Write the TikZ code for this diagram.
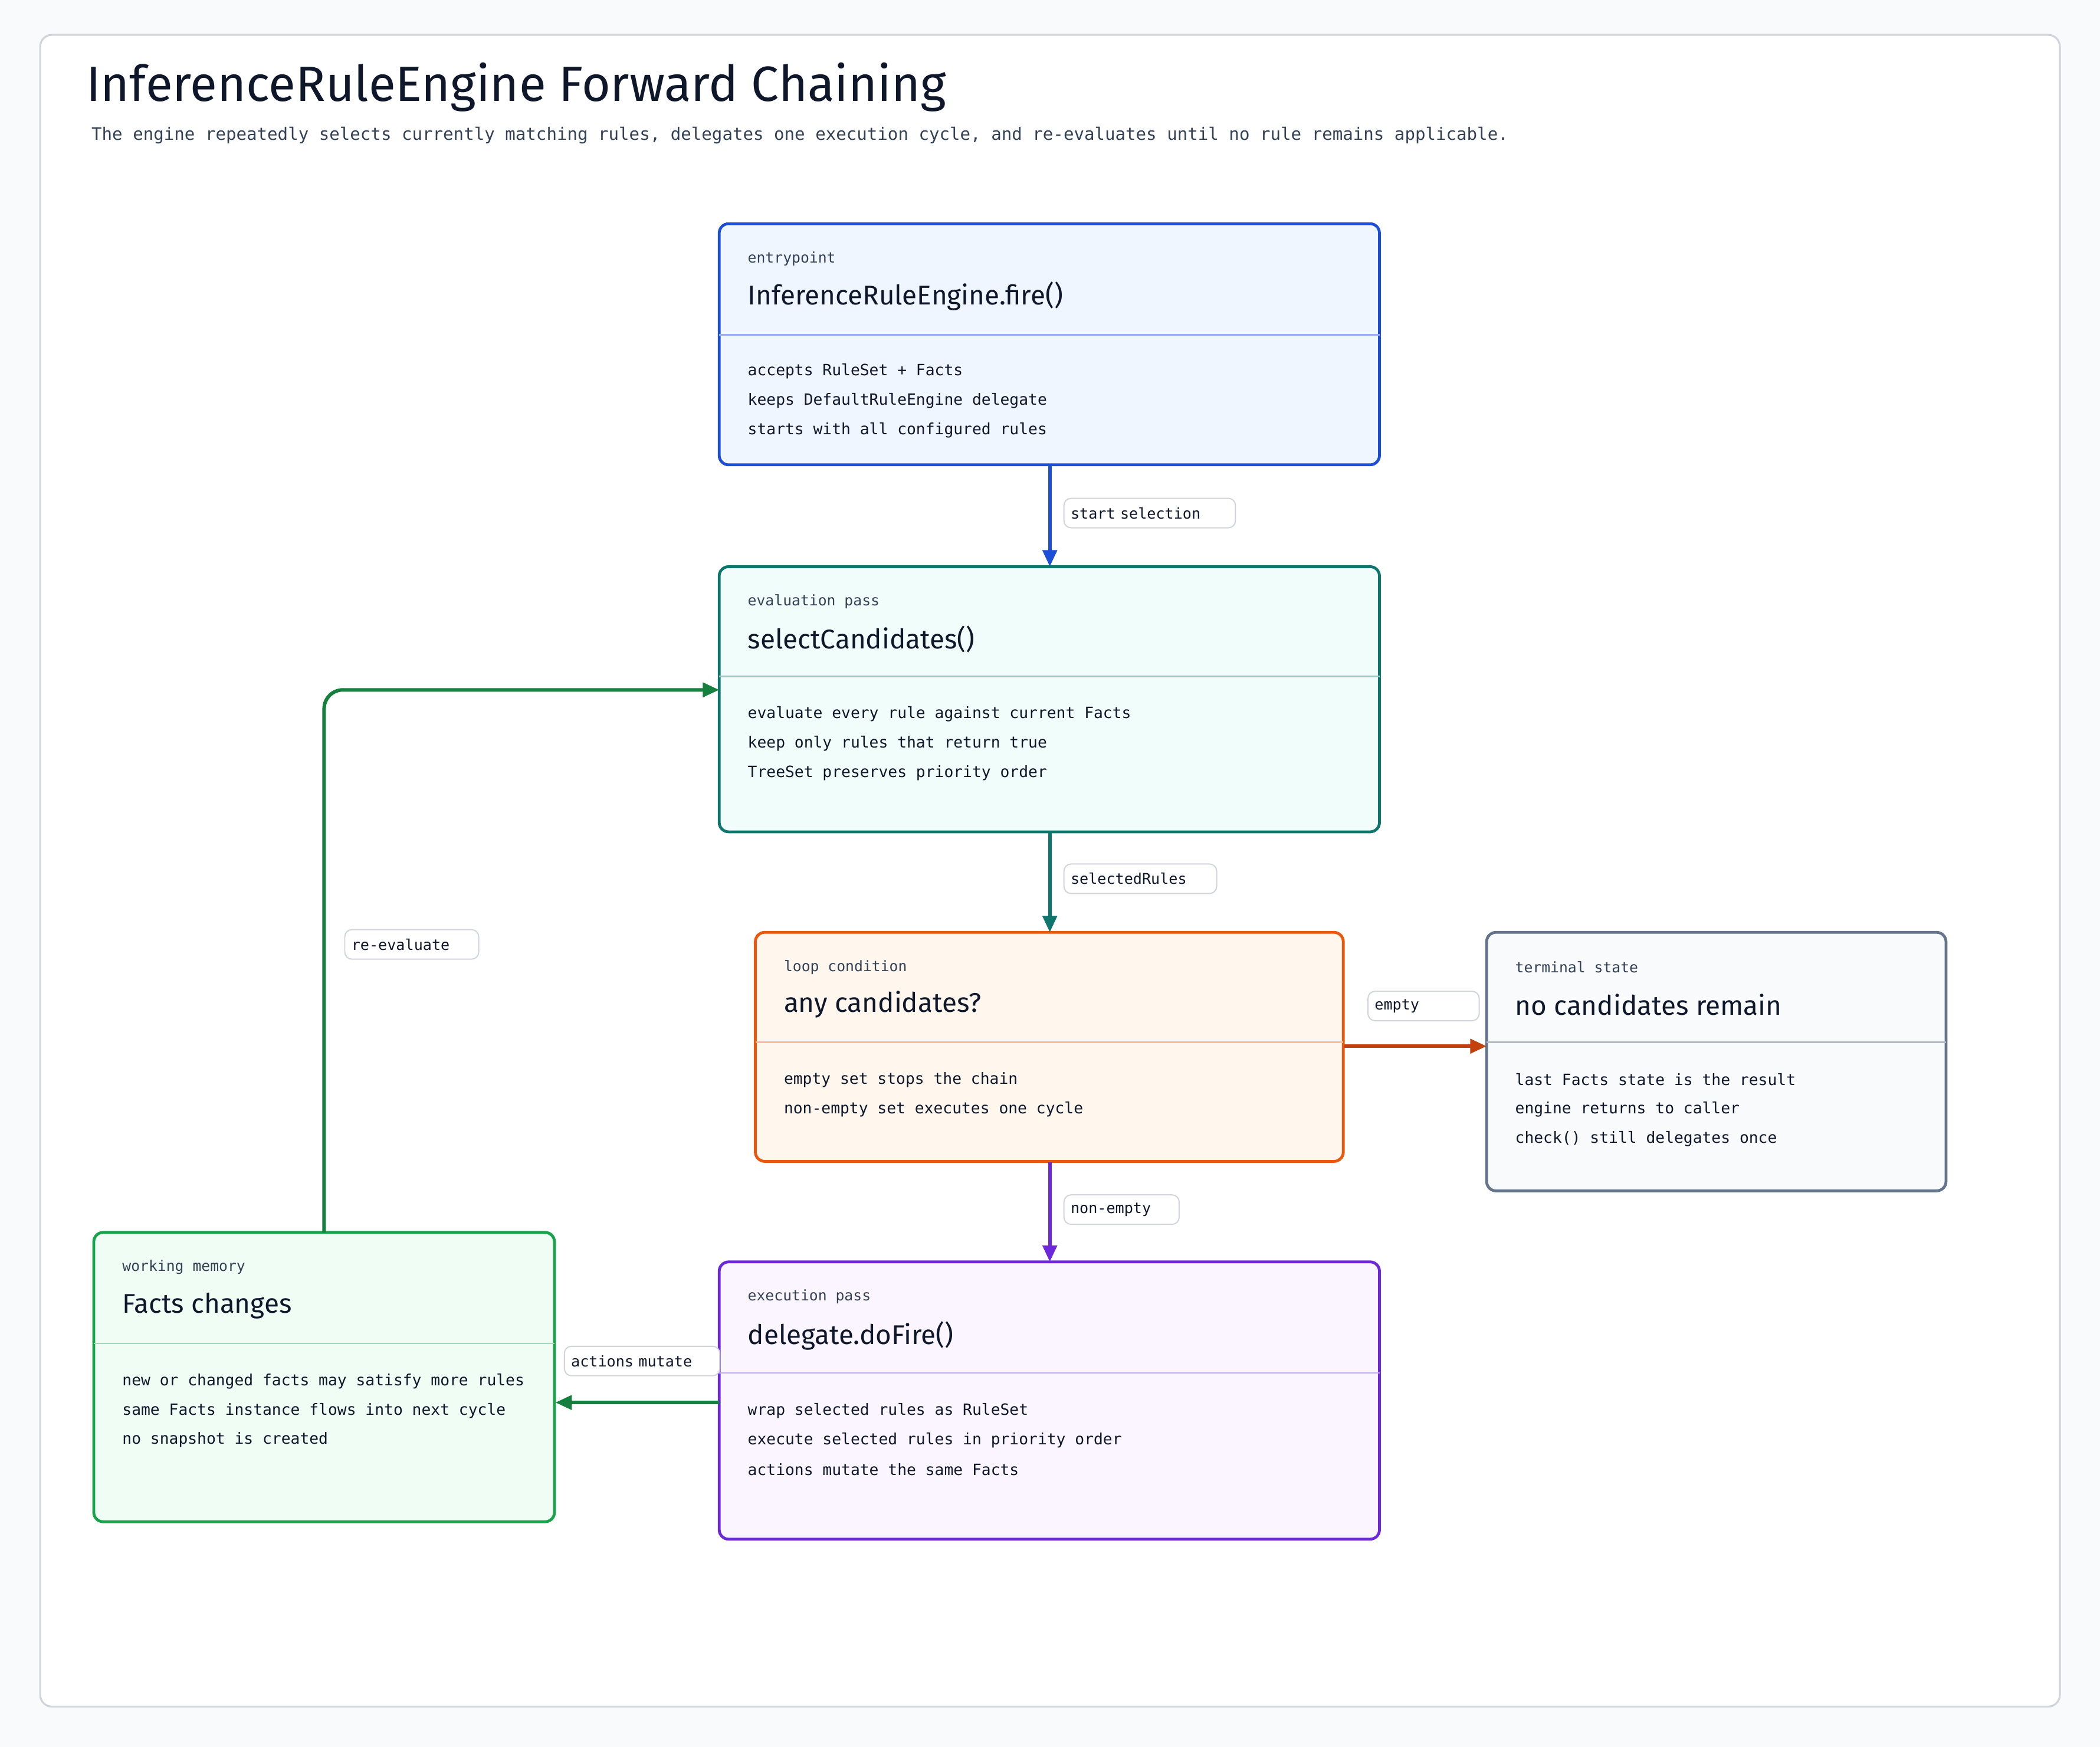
\documentclass[tikz,border=0pt]{standalone}
\usepackage{fontspec}
\setmainfont{Fira Sans}
\setmonofont{DejaVu Sans Mono}
\usetikzlibrary{arrows.meta}
\definecolor{bg}{HTML}{F8FAFC}
\definecolor{frame}{HTML}{D1D5DB}
\definecolor{ink}{HTML}{0F172A}
\definecolor{sub}{HTML}{334155}
\definecolor{cblue}{HTML}{1D4ED8}\definecolor{fblue}{HTML}{EFF6FF}
\definecolor{cteal}{HTML}{0F766E}\definecolor{fteal}{HTML}{F0FDFA}
\definecolor{corange}{HTML}{EA580C}\definecolor{forange}{HTML}{FFF7ED}
\definecolor{cred}{HTML}{C2410C}
\definecolor{cslate}{HTML}{64748B}\definecolor{fslate}{HTML}{F8FAFC}
\definecolor{cpurple}{HTML}{6D28D9}\definecolor{fpurple}{HTML}{FAF5FF}
\definecolor{cgreen}{HTML}{16A34A}\definecolor{fgreen}{HTML}{F0FDF4}
\definecolor{agreen}{HTML}{15803D}
\begin{document}
\begin{tikzpicture}[x=0.02cm,y=-0.02cm,
  card/.style={draw=#1,line width=1.2pt,rounded corners=4pt},
  small/.style={anchor=west,inner sep=0,font=\ttfamily\fontsize{6.2}{7}\selectfont,text=sub},
  ttl/.style={anchor=west,inner sep=0,font=\fontsize{11.5}{13}\selectfont,text=ink},
  body/.style={anchor=west,inner sep=0,font=\ttfamily\fontsize{6.6}{8}\selectfont,text=ink},
  lbl/.style={draw=frame,fill=white,rounded corners=3pt,line width=0.5pt,inner sep=0,anchor=west,font=\ttfamily\fontsize{6.3}{7}\selectfont,text=ink,align=left},
  conn/.style={line width=1.5pt,-{Triangle[length=7pt,width=6pt]}}]
\useasboundingbox (0,0) rectangle (1568,1304);
\fill[bg] (0,0) rectangle (1568,1304);
\draw[frame,fill=white,line width=0.8pt,rounded corners=5pt] (30,26) rectangle (1538,1274);
\node[anchor=west,inner sep=0,font=\fontsize{21}{24}\selectfont,text=ink] (title) at (64,65) {InferenceRuleEngine Forward Chaining};
\node[anchor=west,inner sep=0,font=\ttfamily\fontsize{7.3}{9}\selectfont,text=sub] (subt) at (68,101) {The engine repeatedly selects currently matching rules, delegates one execution cycle, and re-evaluates until no rule remains applicable.};

% boxes: entry
\draw[card=cblue,fill=fblue] (537,167) rectangle (1030,347);
\node[inner sep=0,minimum width=493*0.02cm,minimum height=180*0.02cm,anchor=north west] (entry) at (537,167) {};
\draw[cblue!45,line width=0.6pt] (537,250) -- (1030,250);
\node[small] (entryk) at (558,193) {entrypoint};
\node[ttl] (entryt) at (558,221) {InferenceRuleEngine.fire()};
\node[body] (entry1) at (558,277) {accepts RuleSet + Facts};
\node[body] (entry2) at (558,299) {keeps DefaultRuleEngine delegate};
\node[body] (entry3) at (558,321) {starts with all configured rules};

% select
\draw[card=cteal,fill=fteal] (537,423) rectangle (1030,621);
\node[inner sep=0,minimum width=493*0.02cm,minimum height=198*0.02cm,anchor=north west] (sel) at (537,423) {};
\draw[cteal!40,line width=0.6pt] (537,505) -- (1030,505);
\node[small] (selk) at (558,449) {evaluation pass};
\node[ttl] (selt) at (558,477) {selectCandidates()};
\node[body] (sel1) at (558,533) {evaluate every rule against current Facts};
\node[body] (sel2) at (558,555) {keep only rules that return true};
\node[body] (sel3) at (558,577) {TreeSet preserves priority order};

% loop
\draw[card=corange,fill=forange] (564,696) rectangle (1003,867);
\node[inner sep=0,minimum width=439*0.02cm,minimum height=171*0.02cm,anchor=north west] (loop) at (564,696) {};
\draw[corange!40,line width=0.6pt] (564,778) -- (1003,778);
\node[small] (loopk) at (585,722) {loop condition};
\node[ttl] (loopt) at (585,750) {any candidates?};
\node[body] (loop1) at (585,806) {empty set stops the chain};
\node[body] (loop2) at (585,828) {non-empty set executes one cycle};

% terminal
\draw[card=cslate,fill=fslate] (1110,696) rectangle (1453,889);
\node[inner sep=0,minimum width=343*0.02cm,minimum height=193*0.02cm,anchor=north west] (term) at (1110,696) {};
\draw[cslate!50,line width=0.6pt] (1110,778) -- (1453,778);
\node[small] (termk) at (1131,722) {terminal state};
\node[ttl] (termt) at (1131,750) {no candidates remain};
\node[body] (term1) at (1131,806) {last Facts state is the result};
\node[body] (term2) at (1131,828) {engine returns to caller};
\node[body] (term3) at (1131,850) {check() still delegates once};

% delegate
\draw[card=cpurple,fill=fpurple] (537,942) rectangle (1030,1149);
\node[inner sep=0,minimum width=493*0.02cm,minimum height=207*0.02cm,anchor=north west] (del) at (537,942) {};
\draw[cpurple!40,line width=0.6pt] (537,1025) -- (1030,1025);
\node[small] (delk) at (558,968) {execution pass};
\node[ttl] (delt) at (558,997) {delegate.doFire()};
\node[body] (del1) at (558,1053) {wrap selected rules as RuleSet};
\node[body] (del2) at (558,1075) {execute selected rules in priority order};
\node[body] (del3) at (558,1097) {actions mutate the same Facts};

% facts
\draw[card=cgreen,fill=fgreen] (70,920) rectangle (414,1136);
\node[inner sep=0,minimum width=344*0.02cm,minimum height=216*0.02cm,anchor=north west] (facts) at (70,920) {};
\draw[cgreen!40,line width=0.6pt] (70,1003) -- (414,1003);
\node[small] (factsk) at (91,946) {working memory};
\node[ttl] (factst) at (91,975) {Facts changes};
\node[body] (facts1) at (91,1031) {new or changed facts may satisfy more rules};
\node[body] (facts2) at (91,1053) {same Facts instance flows into next cycle};
\node[body] (facts3) at (91,1075) {no snapshot is created};

% connectors
\coordinate (c1) at (242,515);
\draw[conn,cblue] (entry.south) -- (sel.north);
\draw[conn,cteal] (sel.south) -- (loop.north);
\draw[conn,cred] (loop.east |- 0,781) -- (term.west |- 0,781);
\draw[conn,cpurple] (loop.south) -- (del.north);
\draw[conn,agreen] (del.west |- 0,1047) -- (facts.east |- 0,1047);
\draw[conn,agreen,rounded corners=8pt] (facts.north -| 242,0) -- (c1) -- (sel.west |- c1);

% labels
\node[lbl,minimum width=128*0.02cm,minimum height=22*0.02cm,text width=118*0.02cm] (l1) at (794,383) {start selection};
\node[lbl,minimum width=114*0.02cm,minimum height=22*0.02cm,text width=104*0.02cm] (l2) at (794,656) {selectedRules};
\node[lbl,minimum width=83*0.02cm,minimum height=22*0.02cm,text width=73*0.02cm] (l3) at (1021,751) {empty};
\node[lbl,minimum width=86*0.02cm,minimum height=22*0.02cm,text width=76*0.02cm] (l4) at (794,903) {non-empty};
\node[lbl,minimum width=116*0.02cm,minimum height=22*0.02cm,text width=106*0.02cm] (l5) at (421,1016) {actions mutate};
\node[lbl,minimum width=100*0.02cm,minimum height=22*0.02cm,text width=90*0.02cm] (l6) at (257,705) {re-evaluate};
\end{tikzpicture}
\end{document}
